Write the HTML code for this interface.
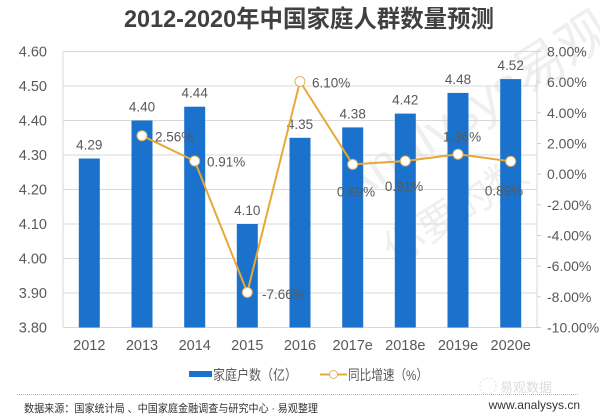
<!DOCTYPE html>
<html><head><meta charset="utf-8"><style>
html,body{margin:0;padding:0;background:#fff;}
svg{display:block;}
text{font-family:"Liberation Sans","Noto Sans CJK SC",sans-serif;}
</style></head><body>
<svg width="600" height="418" viewBox="0 0 600 418" xmlns="http://www.w3.org/2000/svg">
<rect width="600" height="418" fill="#fff"/>
<!-- title -->
<text x="309" y="27" text-anchor="middle" font-size="24" font-weight="bold" fill="#404040" textLength="370" lengthAdjust="spacingAndGlyphs">2012-2020年中国家庭人群数量预测</text>

<!-- watermark -->
<g fill="#efefef">
<text x="0" y="0" font-size="52" transform="translate(350,205) rotate(-32)">Analysys易观</text>
<text x="0" y="0" font-size="40" transform="translate(395,265) rotate(-32)">你要的数</text>
</g>

<!-- gridlines -->
<g stroke="#d9d9d9" stroke-width="1">
<line x1="63" y1="51.5" x2="537" y2="51.5"/>
<line x1="63" y1="86" x2="537" y2="86"/>
<line x1="63" y1="120.5" x2="537" y2="120.5"/>
<line x1="63" y1="155" x2="537" y2="155"/>
<line x1="63" y1="189.5" x2="537" y2="189.5"/>
<line x1="63" y1="224" x2="537" y2="224"/>
<line x1="63" y1="258.5" x2="537" y2="258.5"/>
<line x1="63" y1="293" x2="537" y2="293"/>
<line x1="63" y1="327.5" x2="537" y2="327.5"/>
<line x1="63" y1="51.5" x2="63" y2="327.5"/>
<line x1="537" y1="51.5" x2="537" y2="327.5"/>
</g>
<g stroke="#d0d0d0" stroke-width="1">
<line x1="537" y1="51.5" x2="541" y2="51.5"/>
<line x1="537" y1="82.2" x2="541" y2="82.2"/>
<line x1="537" y1="112.8" x2="541" y2="112.8"/>
<line x1="537" y1="143.5" x2="541" y2="143.5"/>
<line x1="537" y1="174.2" x2="541" y2="174.2"/>
<line x1="537" y1="204.8" x2="541" y2="204.8"/>
<line x1="537" y1="235.5" x2="541" y2="235.5"/>
<line x1="537" y1="266.2" x2="541" y2="266.2"/>
<line x1="537" y1="296.8" x2="541" y2="296.8"/>
<line x1="537" y1="327.5" x2="541" y2="327.5"/>
</g>

<!-- left axis labels -->
<g font-size="14.5" fill="#595959" text-anchor="end">
<text x="47" y="56.5">4.60</text>
<text x="47" y="91">4.50</text>
<text x="47" y="125.5">4.40</text>
<text x="47" y="160">4.30</text>
<text x="47" y="194.5">4.20</text>
<text x="47" y="229">4.10</text>
<text x="47" y="263.5">4.00</text>
<text x="47" y="298">3.90</text>
<text x="47" y="332.5">3.80</text>
</g>
<!-- right axis labels -->
<g font-size="14" fill="#595959">
<text x="547" y="56.5">8.00%</text>
<text x="547" y="87.2">6.00%</text>
<text x="547" y="117.8">4.00%</text>
<text x="547" y="148.5">2.00%</text>
<text x="547" y="179.2">0.00%</text>
<text x="547" y="209.8">-2.00%</text>
<text x="547" y="240.5">-4.00%</text>
<text x="547" y="271.2">-6.00%</text>
<text x="547" y="301.8">-8.00%</text>
<text x="547" y="332.5">-10.00%</text>
</g>

<!-- bars -->
<g fill="#1a72cc">
<rect x="78.8" y="158.5" width="21" height="169"/>
<rect x="131.5" y="120.5" width="21" height="207"/>
<rect x="184.2" y="106.7" width="21" height="220.8"/>
<rect x="236.8" y="224" width="21" height="103.5"/>
<rect x="289.5" y="137.8" width="21" height="189.7"/>
<rect x="342.2" y="127.4" width="21" height="200.1"/>
<rect x="394.8" y="113.6" width="21" height="213.9"/>
<rect x="447.5" y="92.9" width="21" height="234.6"/>
<rect x="500.2" y="79.1" width="21" height="248.4"/>
</g>

<!-- bar labels -->
<g font-size="13.5" fill="#595959" text-anchor="middle">
<text x="89.3" y="149.5">4.29</text>
<text x="142" y="111.5">4.40</text>
<text x="194.7" y="97.7">4.44</text>
<text x="247.3" y="215">4.10</text>
<text x="300" y="128.8">4.35</text>
<text x="352.7" y="118.4">4.38</text>
<text x="405.3" y="104.6">4.42</text>
<text x="458" y="83.9">4.48</text>
<text x="510.7" y="70.1">4.52</text>
</g>

<!-- line -->
<polyline fill="none" stroke="#e8a838" stroke-width="2" stroke-linejoin="round"
 points="142,135.7 194.7,161 247.3,292.4 300,81.5 352.7,164.4 405.3,161 458,154.2 510.7,161.4"/>
<g fill="#fff" stroke="#e8b060" stroke-width="1">
<circle cx="142" cy="135.7" r="5"/>
<circle cx="194.7" cy="161" r="5"/>
<circle cx="247.3" cy="292.4" r="5"/>
<circle cx="300" cy="81.5" r="5"/>
<circle cx="352.7" cy="164.4" r="5"/>
<circle cx="405.3" cy="161" r="5"/>
<circle cx="458" cy="154.2" r="5"/>
<circle cx="510.7" cy="161.4" r="5"/>
</g>

<!-- line labels -->
<g font-size="13.5" fill="#595959">
<text x="155" y="141.5">2.56%</text>
<text x="207" y="166.5">0.91%</text>
<text x="262" y="299">-7.66%</text>
<text x="312" y="87.5">6.10%</text>
<text x="356" y="196.5" text-anchor="middle">0.69%</text>
<text x="404" y="191" text-anchor="middle">0.91%</text>
<text x="462" y="141.5" text-anchor="middle">1.36%</text>
<text x="504" y="195.5" text-anchor="middle">0.89%</text>
</g>

<!-- x labels -->
<g font-size="14.5" fill="#595959" text-anchor="middle">
<text x="89.3" y="350">2012</text>
<text x="142" y="350">2013</text>
<text x="194.7" y="350">2014</text>
<text x="247.3" y="350">2015</text>
<text x="300" y="350">2016</text>
<text x="352.7" y="350">2017e</text>
<text x="405.3" y="350">2018e</text>
<text x="458" y="350">2019e</text>
<text x="510.7" y="350">2020e</text>
</g>

<!-- legend -->
<rect x="189" y="371" width="23" height="6" fill="#1a72cc"/>
<text x="213" y="380" font-size="14" fill="#595959" textLength="84" lengthAdjust="spacingAndGlyphs">家庭户数（亿）</text>
<line x1="320" y1="374.5" x2="347" y2="374.5" stroke="#e8a838" stroke-width="2"/>
<circle cx="333.5" cy="374.5" r="4" fill="#fff" stroke="#e8b060" stroke-width="1"/>
<text x="348" y="380" font-size="14" fill="#595959" textLength="80" lengthAdjust="spacingAndGlyphs">同比增速（%）</text>

<!-- faint logo -->
<text x="500" y="392" font-size="13" fill="#dcdcdc">易观数据</text>
<circle cx="488" cy="386" r="8" fill="none" stroke="#e2e2e2" stroke-width="1" stroke-dasharray="2,2"/>

<!-- separator -->
<line x1="17" y1="394.5" x2="578" y2="394.5" stroke="#b5b5b5" stroke-width="1" stroke-dasharray="1,1"/>

<!-- footer -->
<text x="24" y="412" font-size="11" fill="#333" textLength="294" lengthAdjust="spacingAndGlyphs">数据来源：国家统计局 、中国家庭金融调查与研究中心 · 易观整理</text>
<text x="580" y="409" font-size="12" fill="#333" text-anchor="end">www.analysys.cn</text>
</svg>
</body></html>
